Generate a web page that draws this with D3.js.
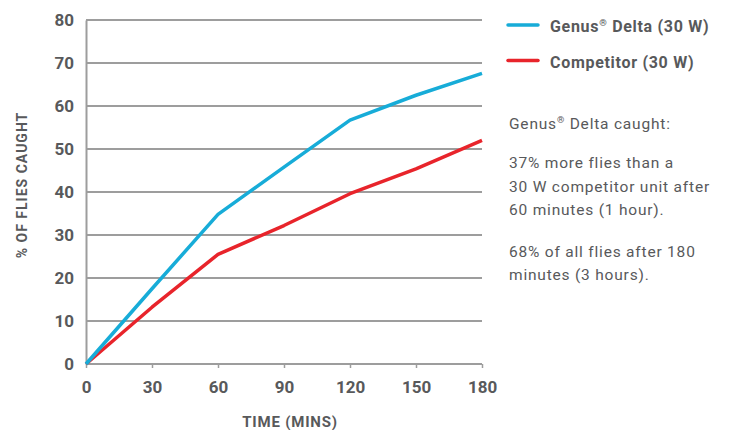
<html>
<head>
<meta charset="utf-8">
<script src="https://d3js.org/d3.v7.min.js"></script>
<style>
body { margin: 0; background: #fff; }
text { font-family: "Roboto", "DejaVu Sans", sans-serif; fill: #58595b; }
</style>
</head>
<body>
<div id="chart"></div>
<script>
// data
const minutes = [0, 30, 60, 90, 120, 150, 180];
const genusDelta = [0, 17.5, 34.8, 45.8, 56.7, 62.5, 67.6];
const competitor = [0, 13.2, 25.5, 32.2, 39.6, 45.4, 52.0];
const yTicks = [0, 10, 20, 30, 40, 50, 60, 70, 80];
const seriesNames = [["Genus", "\u00ae", " Delta (30 W)"], ["Competitor (30 W)"]];
const seriesColors = ["#17acd8", "#e8242b"];
const notes = [
  [["Genus", "\u00ae", " Delta caught:"]],
  [["37% more flies than a"], ["30 W competitor unit after"], ["60 minutes (1 hour)."]],
  [["68% of all flies after 180"], ["minutes (3 hours)."]]
];

const w = 730, h = 430;
const padLeft = 86, padRight = 482, padTop = 20, padBottom = 364;

const svg = d3.select("#chart").append("svg")
  .attr("width", w).attr("height", h);

const x = d3.scaleLinear().domain([0, 180]).range([padLeft, padRight]);
const y = d3.scaleLinear().domain([0, 80]).range([padBottom, padTop]);

// text pieces, the second piece (if any) is the small raised ®
function addPieces(sel, parts) {
  parts.forEach((p, i) => {
    const t = sel.append("tspan").text(p);
    if (i == 1) t.style("font-size", "60%").attr("dy", "-0.6em");
    if (i == 2) t.attr("dy", "0.36em");
  });
}

// grid
svg.append("g").selectAll("line")
  .data(yTicks.filter(d => d > 0))
  .enter().append("line")
  .attr("x1", padLeft).attr("x2", padRight)
  .attr("y1", d => y(d)).attr("y2", d => y(d))
  .attr("stroke", "#9d9d9d").attr("stroke-width", 2);

// y axis
const yAxis = d3.axisLeft(y).tickValues(yTicks).tickSize(0).tickPadding(12);
const gy = svg.append("g").attr("transform", `translate(${padLeft},0)`).call(yAxis);
gy.select(".domain").attr("stroke", "#9d9d9d").attr("stroke-width", 2);
gy.selectAll("text").style("font-size", "17px").style("font-weight", "bold")
  .attr("fill", "#58595b");

// x axis
const xAxis = d3.axisBottom(x).tickValues(minutes).tickSize(4).tickPadding(13);
const gx = svg.append("g").attr("transform", `translate(0,${padBottom})`).call(xAxis);
gx.select(".domain").attr("stroke", "#9d9d9d").attr("stroke-width", 2).attr("d", `M${padLeft},0H${padRight}`);
gx.selectAll(".tick line").attr("stroke", "#9d9d9d").attr("stroke-width", 1.5);
gx.selectAll("text").style("font-size", "17px").style("font-weight", "bold")
  .attr("fill", "#58595b");

// axis titles
svg.append("text").attr("x", 290).attr("y", 427)
  .attr("text-anchor", "middle").style("font-size", "15px").style("font-weight", "bold")
  .style("letter-spacing", "0.8px")
  .text("TIME (MINS)");
svg.append("text").attr("transform", "translate(27,185) rotate(-90)")
  .attr("text-anchor", "middle").style("font-size", "14px").style("font-weight", "bold")
  .style("letter-spacing", "1px")
  .text("% OF FLIES CAUGHT");

// lines
const line = d3.line().x((d, i) => x(minutes[i])).y(d => y(d));
[competitor, genusDelta].forEach((s, k) => {
  svg.append("path").datum(s)
    .attr("d", line)
    .attr("fill", "none")
    .attr("stroke", seriesColors[1 - k])
    .attr("stroke-width", 3.5)
    .attr("stroke-linejoin", "round");
});

// legend
seriesNames.forEach((name, i) => {
  const g = svg.append("g").attr("transform", `translate(508,${25 + i * 35.5})`);
  g.append("line").attr("x1", 0).attr("x2", 30)
    .attr("stroke", seriesColors[i]).attr("stroke-width", 3.5).attr("stroke-linecap", "round");
  const t = g.append("text").attr("x", 42).attr("y", 7)
    .style("font-size", "16px").style("font-weight", "bold").style("letter-spacing", "0.7px");
  addPieces(t, name);
});

// notes
const noteY = [[129], [168, 191.5, 215], [256.5, 280]];
notes.forEach((block, b) => {
  block.forEach((parts, j) => {
    const t = svg.append("text").attr("x", 509).attr("y", noteY[b][j])
      .style("font-size", "15.5px").style("letter-spacing", "0.8px");
    addPieces(t, parts);
  });
});
</script>
</body>
</html>
